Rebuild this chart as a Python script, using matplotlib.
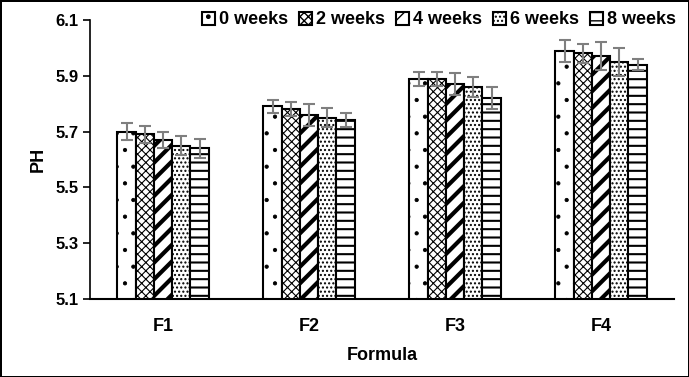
#!/usr/bin/env python3
"""pH of formulas F1-F4 over storage weeks - grouped bar chart with hatches."""

import numpy as np
import matplotlib
matplotlib.use('Agg')
import matplotlib.pyplot as plt

plt.rcParams.update({
    'font.family': ['Liberation Sans', 'DejaVu Sans'],
    'font.weight': 'bold',
    'font.size': 12,
})

formulas = ['F1', 'F2', 'F3', 'F4']
weeks = ['0 weeks', '2 weeks', '4 weeks', '6 weeks', '8 weeks']

ph_0w = [5.70, 5.79, 5.89, 5.99]
ph_2w = [5.69, 5.78, 5.89, 5.98]
ph_4w = [5.67, 5.76, 5.87, 5.97]
ph_6w = [5.65, 5.75, 5.86, 5.95]
ph_8w = [5.64, 5.74, 5.82, 5.94]

err_0w = [0.030, 0.025, 0.025, 0.040]
err_2w = [0.030, 0.025, 0.025, 0.035]
err_4w = [0.030, 0.040, 0.040, 0.050]
err_6w = [0.035, 0.035, 0.035, 0.050]
err_8w = [0.035, 0.025, 0.040, 0.020]

series = [ph_0w, ph_2w, ph_4w, ph_6w, ph_8w]
errors = [err_0w, err_2w, err_4w, err_6w, err_8w]
HATCHES = ['.', 'xxxx', '//', '....', '--']
HATCH_LW = [0.6, 0.8, 3.0, 1.0, 1.5]

fig = plt.figure(figsize=(6.89, 3.77), dpi=100, linewidth=2, edgecolor='black')
ax = fig.add_axes([90 / 689, 1 - 299 / 377, (674 - 90) / 689, (299 - 20) / 377])

x = np.arange(len(formulas))
bw = 0.125
for i, (vals, errs) in enumerate(zip(series, errors)):
    pos = x + (i - 2) * bw
    with plt.rc_context({'hatch.linewidth': HATCH_LW[i]}):
        ax.bar(pos, vals, width=bw, color='white', edgecolor='black',
               lw=1.5, hatch=HATCHES[i], label=weeks[i], zorder=2)
    ax.errorbar(pos, vals, yerr=errs, fmt='none', ecolor='#7f7f7f',
                elinewidth=1.5, capsize=4, capthick=1.5, zorder=3)

yt = np.arange(5.1, 6.11, 0.2)
ax.set_ylim(5.1, 6.1)
ax.set_xlim(-0.5, 3.5)
ax.set_yticks(yt)
ax.set_yticklabels([f'{v:.1f}' for v in yt], fontweight='bold', fontsize=12)
ax.set_xticks(x)
ax.set_xticklabels(formulas, fontweight='bold', fontsize=13)
ax.tick_params(axis='x', length=0, pad=14)
ax.tick_params(axis='y', length=5, width=1.2, direction='out')
for s in ['top', 'right']:
    ax.spines[s].set_visible(False)
ax.spines['left'].set_linewidth(1.2)
ax.spines['bottom'].set_linewidth(1.5)

ax.set_ylabel('PH', fontweight='bold', fontsize=13, labelpad=6)
ax.set_xlabel('Formula', fontweight='bold', fontsize=13, labelpad=8)

leg = fig.legend(loc='center right', bbox_to_anchor=(683 / 689, 1 - 20 / 377),
                 ncol=5, frameon=False, handlelength=0.75, handleheight=0.75,
                 handletextpad=0.2, columnspacing=0.6, borderaxespad=0,
                 prop={'weight': 'bold', 'size': 13})

fig.savefig('out.png', dpi=100, facecolor='white', edgecolor=fig.get_edgecolor())
